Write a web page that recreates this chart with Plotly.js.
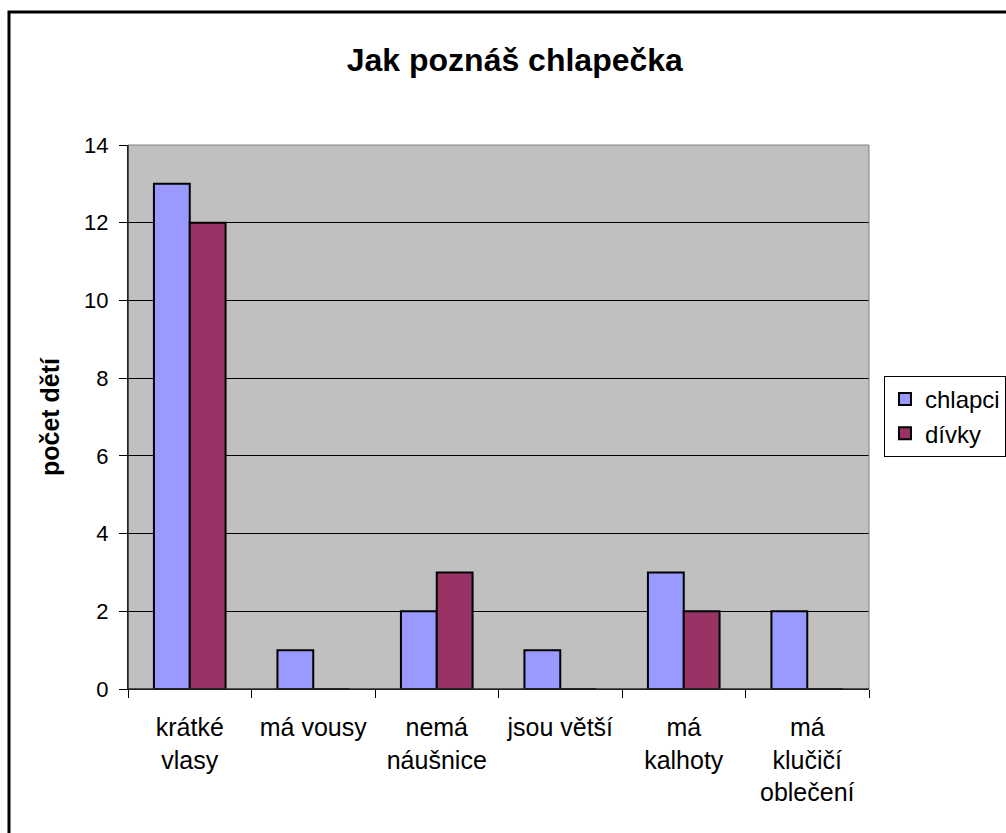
<!DOCTYPE html>
<html>
<head>
<meta charset="utf-8">
<script src="https://cdn.plot.ly/plotly-3.0.1.min.js"></script>
<style>html,body{margin:0;padding:0;background:#fff;}#chart{width:1006px;height:833px;}</style>
</head>
<body>
<div id="chart"></div>
<script>
const categories = ["krátké<br>vlasy", "má vousy", "nemá<br>náušnice", "jsou větší", "má<br>kalhoty", "má<br>klučičí<br>oblečení"];
const chlapci = [13, 1, 2, 1, 3, 2];
const divky = [12, 0, 3, 0, 2, 0];
const seriesNames = ["chlapci", "dívky"];
const yTicks = [0, 2, 4, 6, 8, 10, 12, 14];

const font = "Liberation Sans, Arial, sans-serif";

const traces = [
  {type: "bar", name: seriesNames[0], x: categories, y: chlapci,
   marker: {color: "#9999FF", line: {color: "#000", width: 2}}},
  {type: "bar", name: seriesNames[1], x: categories, y: divky,
   marker: {color: "#993366", line: {color: "#000", width: 2}}}
];

const layout = {
  width: 1006, height: 833,
  margin: {l: 128, r: 137, t: 145, b: 144, autoexpand: false},
  paper_bgcolor: "#fff", plot_bgcolor: "#C0C0C0",
  font: {family: font, color: "#000"},
  barmode: "group", bargap: 0.42, bargroupgap: 0,
  showlegend: true,
  title: {text: "<b>Jak poznáš chlapečka</b>", font: {family: font, size: 32, color: "#000"},
          xref: "paper", x: 0.522, xanchor: "center", yref: "container", y: 0.928, yanchor: "middle"},
  xaxis: {
    type: "category", tickson: "boundaries", ticks: "outside", ticklen: 8, tickcolor: "#000", tickwidth: 1,
    showline: true, linecolor: "#000", linewidth: 1, showgrid: false,
    tickfont: {family: font, size: 25, color: "#000"}, ticklabelstandoff: 16
  },
  yaxis: {
    range: [0, 14], tickvals: yTicks, ticks: "outside", ticklen: 8, tickcolor: "#000",
    showline: true, linecolor: "#000", linewidth: 1,
    showgrid: true, gridcolor: "#000", gridwidth: 1, zeroline: false,
    tickfont: {family: font, size: 22, color: "#000"}, ticklabelstandoff: 6,
    title: {text: "<b>počet dětí</b>", font: {family: font, size: 25, color: "#000"}, standoff: 17}
  },
  legend: {
    xref: "container", yref: "container",
    x: 0.8787, xanchor: "left", y: 0.5486, yanchor: "top",
    bgcolor: "#fff", bordercolor: "#000", borderwidth: 1,
    font: {family: font, size: 24, color: "#000"}, traceorder: "normal", itemclick: false,
    tracegroupgap: 0
  },
  shapes: [
    {type: "rect", xref: "paper", yref: "paper", x0: 0, x1: 1, y0: 0, y1: 1,
     line: {color: "#808080", width: 1}, layer: "above"},
    {type: "line", xref: "paper", yref: "paper", x0: 0, x1: 0, y0: 0, y1: 1,
     line: {color: "#000", width: 1}, layer: "above"},
    {type: "line", xref: "paper", yref: "paper", x0: 0, x1: 1, y0: 0, y1: 0,
     line: {color: "#000", width: 1}, layer: "above"},
    {type: "rect", xref: "paper", yref: "paper", x0: -0.1606, x1: 1.3, y0: -0.4, y1: 1.2445,
     line: {color: "#000", width: 3}, layer: "below"}
  ]
};

Plotly.newPlot("chart", traces, layout, {displayModeBar: false, staticPlot: true});
</script>
</body>
</html>
